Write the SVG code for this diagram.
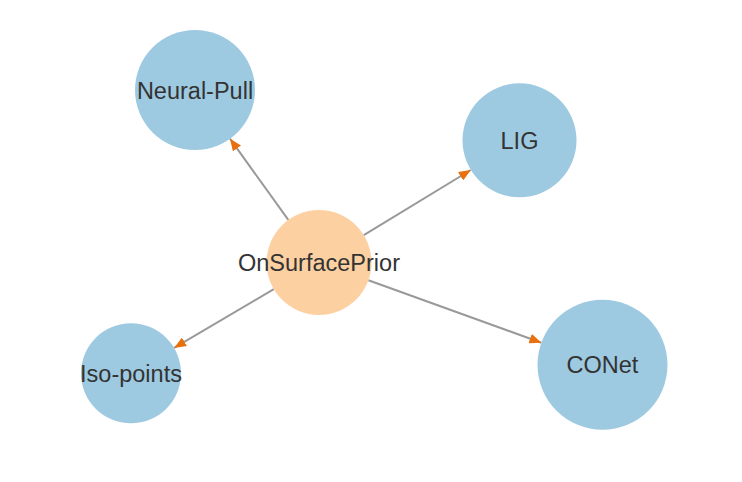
<svg xmlns="http://www.w3.org/2000/svg" width="742" height="482" viewBox="0 0 742 482">
<style>
.blue{fill:#9ecae1}
.orange{fill:#fdd0a2}
.lbl{font-family:"Liberation Sans",Arial,sans-serif;font-size:23.5px;fill:#333;text-anchor:middle}
.edge{stroke:#999;stroke-width:2;fill:none}
</style>
<defs>
<marker id="arr" viewBox="0 -5 12 10" refX="12" refY="0" markerWidth="12" markerHeight="10" markerUnits="userSpaceOnUse" orient="auto">
<path d="M0,-5L12,0L0,5Z" fill="#e8700f"/>
</marker>
</defs>
<rect width="742" height="482" fill="#fff"/>
<g id="connectors">
<line class="edge" x1="288.3" y1="219.9" x2="230.0" y2="138.7" marker-end="url(#arr)"/>
<line class="edge" x1="363.8" y1="235.2" x2="470.8" y2="170.0" marker-end="url(#arr)"/>
<line class="edge" x1="273.8" y1="289.2" x2="174.1" y2="347.9" marker-end="url(#arr)"/>
<line class="edge" x1="368.4" y1="280.3" x2="541.4" y2="342.7" marker-end="url(#arr)"/>
</g>
<g id="node-neural-pull">
<circle class="blue" cx="195" cy="90" r="60"/>
<text class="lbl" x="195" y="98.5">Neural-Pull</text>
</g>
<g id="node-lig">
<circle class="blue" cx="519.5" cy="140.3" r="57"/>
<text class="lbl" x="519.5" y="148.8">LIG</text>
</g>
<g id="node-iso-points">
<circle class="blue" cx="131" cy="373.3" r="50"/>
<text class="lbl" x="131" y="381.8">Iso-points</text>
</g>
<g id="node-conet">
<circle class="blue" cx="602.5" cy="364.8" r="65"/>
<text class="lbl" x="602.5" y="373.3">CONet</text>
</g>
<g id="node-onsurfaceprior">
<circle class="orange" cx="319" cy="262.5" r="52.5"/>
<text class="lbl" x="319" y="271">OnSurfacePrior</text>
</g>
</svg>
